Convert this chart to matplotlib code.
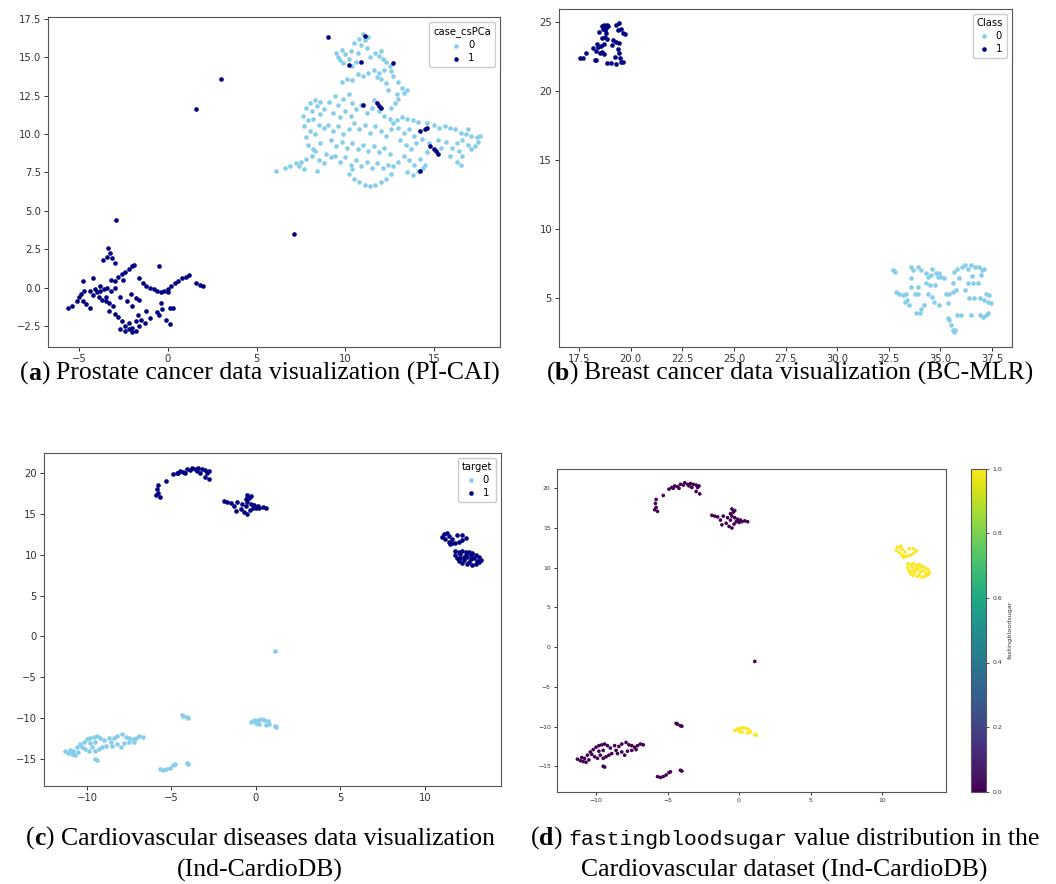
import matplotlib
matplotlib.use("Agg")
import matplotlib.pyplot as plt
from matplotlib.transforms import IdentityTransform

# ---------------- data: (a) PI-CAI ----------------
prostate_neg = [
    (9.5,15.3),(9.6,15.0),(9.8,15.5),(9.7,14.8),(10.0,15.2),(10.2,14.9),(10.3,15.4),(9.9,14.6),
    (10.4,14.4),(10.6,14.7),(10.5,15.9),(10.8,16.2),(11.0,16.5),(11.1,16.1),(10.9,15.8),(11.3,16.3),
    (11.2,15.6),(10.7,15.3),(11.4,15.0),(11.7,15.3),(11.9,15.1),(12.1,14.9),(12.0,15.4),(12.3,14.7),
    (12.5,14.4),(12.6,14.1),(12.2,14.2),(11.9,14.0),(11.6,14.2),(11.3,14.0),(11.0,13.8),(10.7,13.9),
    (10.4,13.5),(10.1,13.6),(9.8,13.4),(12.0,13.6),(12.3,13.3),(11.8,13.7),(12.7,13.8),(13.0,13.4),
    (13.2,13.0),(13.5,12.9),(13.3,12.7),(13.0,12.3),(12.8,12.0),(12.6,11.7),(12.9,12.6),(12.4,12.9),
    (8.0,12.0),(8.3,12.2),(8.6,12.1),(7.8,11.7),(8.1,11.5),(8.4,11.8),(7.6,11.2),(7.9,10.9),
    (8.2,11.0),(8.6,11.3),(8.8,11.6),(7.7,10.5),(8.0,10.2),(8.3,10.0),(8.5,10.6),(8.8,10.4),
    (7.8,9.8),(7.9,9.3),(8.2,9.0),(8.6,9.4),
    (6.1,7.6),(6.6,7.8),(6.9,7.9),(7.2,8.1),(7.5,8.2),(7.8,8.4),(8.1,8.6),(8.3,8.9),(7.4,7.9),
    (7.7,7.7),(8.5,8.3),(8.8,8.1),(8.9,8.7),(9.2,8.5),(8.4,7.6),
    (9.1,12.1),(9.4,12.5),(9.6,11.9),(9.9,12.3),(10.2,12.6),(10.4,12.0),(9.3,11.4),(9.7,11.1),
    (10.0,11.5),(10.3,11.2),(10.6,11.6),(10.9,11.9),(11.2,11.4),(11.5,11.7),(11.6,12.2),(11.9,11.5),
    (12.2,11.2),(12.5,11.0),(12.7,10.7),(9.0,10.6),(9.3,10.2),(9.6,10.5),(9.9,10.0),(10.2,10.3),
    (10.5,10.7),(10.8,10.3),(11.1,10.6),(11.4,10.1),(11.7,10.5),(12.0,10.2),(12.3,9.9),(12.6,10.3),
    (9.2,9.6),(9.5,9.2),(9.8,9.5),(10.1,9.1),(10.4,9.4),(10.7,9.0),(11.0,9.3),(11.3,8.9),
    (11.6,9.2),(11.9,8.8),(12.2,9.1),(12.5,8.7),(9.4,8.6),(9.7,8.2),(10.0,8.5),(10.3,8.0),
    (10.6,8.3),(10.9,7.9),(11.2,8.2),(11.5,7.8),(11.8,8.1),(12.1,7.8),(12.4,8.0),(12.7,7.9),
    (13.0,8.2),(10.2,7.4),(10.5,7.1),(10.8,6.9),(11.1,6.7),(11.4,6.6),(11.7,6.7),(12.0,6.9),
    (12.3,7.1),(10.4,7.7),(12.6,7.4),
    (12.9,10.9),(13.2,11.1),(13.5,11.0),(13.8,10.9),(14.1,10.8),(13.0,10.4),(13.3,10.1),(13.6,10.3),
    (13.9,9.9),(13.1,9.6),(13.4,9.3),(13.7,9.0),(14.0,9.4),(14.3,9.7),(13.3,8.6),(13.6,8.3),
    (13.9,8.0),(14.2,8.4),(14.5,8.0),(13.5,7.5),(13.8,7.3),(14.1,7.6),(14.4,7.8),(14.6,8.8),(14.7,9.4),
    (14.6,10.7),(15.0,10.6),(15.3,10.4),(15.6,10.5),(15.9,10.4),(16.2,10.3),(16.5,10.1),(16.8,10.0),
    (17.1,9.9),(17.4,9.8),(17.6,9.9),(17.5,9.5),(17.3,9.2),(17.1,9.0),(16.9,9.3),(16.6,9.6),
    (16.3,9.4),(16.0,9.1),(15.7,9.5),(16.4,8.9),(16.6,8.6),(16.3,8.2),(16.5,8.0),(15.9,8.6),
    (15.4,9.1),(15.2,9.6),(16.9,10.3),
]
prostate_pos = [
    (9.0,16.3),(11.1,16.4),(10.2,14.5),(10.9,14.7),(12.7,14.6),(11.0,11.9),(11.8,12.0),(11.9,11.8),
    (12.0,11.7),(14.2,10.2),(14.5,10.3),(14.6,10.4),(14.8,9.2),(15.0,9.0),(15.1,8.9),(15.2,8.7),
    (14.2,7.6),(3.0,13.6),(1.6,11.6),(-2.9,4.4),(7.1,3.5),
    (-3.35,2.55),(-3.25,2.23),(-3.44,2.0),(-3.16,1.9),(-3.63,1.8),(-2.97,1.58),
    (-5.6,-1.3),(-5.4,-1.2),(-5.1,-0.9),(-5.0,-0.6),(-4.9,-0.4),(-4.8,-0.9),(-4.6,-1.1),(-4.4,-1.3),
    (-4.7,-0.2),(-4.4,-0.2),(-4.1,-0.1),(-3.8,-0.2),(-3.6,-0.1),(-3.4,0.0),(-3.2,-0.2),(-3.0,0.0),
    (-4.2,0.6),(-4.8,0.4),(-3.9,-0.6),(-3.5,-0.9),(-3.3,-1.0),(-3.1,-1.2),(-3.3,-1.5),(-3.0,-1.7),
    (-2.8,-1.9),(-2.6,-2.2),(-2.4,-2.5),(-2.2,-2.7),(-2.0,-2.9),(-1.8,-2.8),(-1.6,-2.5),(-1.8,-2.2),
    (-1.5,-2.1),(-1.7,-1.8),(-2.4,-2.8),(-2.7,-2.7),
    (-3.0,0.4),(-2.8,0.7),(-2.6,0.9),(-2.4,1.0),(-2.2,1.2),(-2.0,1.4),(-1.9,1.5),(-2.5,0.5),
    (-2.7,-0.6),(-2.3,-0.9),(-2.1,-0.4),(-2.0,-1.2),(-1.8,-0.7),(-1.6,0.6),(-1.4,0.3),(-1.2,0.1),
    (-1.0,0.0),(-0.8,-0.1),(-0.6,-0.2),(-0.4,-0.3),(-0.2,-0.2),(0.0,-0.1),(0.2,0.1),(0.4,0.3),
    (0.6,0.4),(0.8,0.6),(1.0,0.7),(1.2,0.8),(1.6,0.3),(1.8,0.2),(2.0,0.1),(-0.5,1.4),
    (-0.4,-1.0),(-0.3,-1.4),(-0.5,-1.8),(-0.1,-2.1),(0.1,-2.4),(0.1,-1.3),(0.3,-1.3),(0.0,-0.3),
    (-0.6,-1.6),(-3.5,-0.6),(-3.7,-0.8),(-4.0,-0.3),(-4.2,-0.5),(-3.8,0.1),(-3.2,0.5),(-1.6,-0.8),
    (-1.2,-1.5),(-1.0,-2.0),(-1.3,-2.3),(-2.2,-2.3),(-2.0,-2.6),
]

# ---------------- data: (b) BC-MLR ----------------
breast_neg = [
    (32.71,7.01),(32.8,6.9),(33.6,7.25),(33.68,7.0),(33.92,7.25),(34.08,7.0),(33.6,6.4),(33.9,5.8),
    (33.6,5.8),(32.87,5.44),(33.0,5.3),(33.2,5.2),(33.34,5.3),(33.4,4.83),(33.3,4.7),(33.5,4.5),
    (33.76,5.3),(33.9,5.3),(33.8,3.86),(33.99,3.86),(34.07,4.2),(34.23,4.45),(34.32,6.77),(34.4,6.5),
    (34.55,6.65),(34.6,7.1),(34.8,6.77),(34.87,6.5),(35.03,6.5),(35.2,6.4),(34.95,6.8),(34.32,6.1),
    (34.48,5.95),(34.73,5.95),(34.4,5.3),(34.6,5.07),(34.7,4.7),(35.27,5.3),(35.43,5.3),(35.6,5.45),
    (35.75,5.55),(35.35,4.6),(35.35,3.5),(35.43,3.4),(35.5,3.0),(35.6,2.65),(35.65,2.5),(35.73,2.65),
    (35.82,3.75),(35.98,3.75),(36.5,3.75),(36.9,3.75),(37.05,3.6),(37.2,3.75),(37.3,3.87),(36.4,4.95),
    (36.65,4.95),(36.9,4.95),(37.13,4.83),(37.3,4.7),(37.45,4.6),(37.2,5.3),(37.35,5.2),(36.35,6.05),
    (36.57,6.05),(36.8,6.05),(35.6,6.05),(35.9,6.4),(35.66,6.9),(35.8,7.1),(36.05,7.25),(36.2,7.37),
    (36.35,7.1),(36.5,7.37),(36.7,7.25),(36.85,7.25),(37.0,7.0),(37.1,7.1),(36.95,6.65),(36.55,6.55),
    (36.2,5.55),(34.95,4.45),
]
breast_pos = [
    (17.55,22.4),(17.7,22.4),(17.85,22.8),(18.2,23.15),(18.25,22.25),(18.3,22.3),(18.35,23.45),
    (18.5,22.8),(18.6,22.85),(18.45,24.3),(18.6,24.7),(18.7,24.8),(18.75,24.45),(18.85,24.8),
    (18.8,24.6),(18.9,24.7),(18.6,23.85),(18.7,23.45),(18.75,23.95),(18.85,23.8),(18.85,22.05),
    (19.05,22.05),(19.1,23.35),(19.15,23.75),(19.3,24.8),(19.45,24.95),(19.4,24.45),(19.55,24.55),
    (19.65,24.25),(19.75,24.15),(19.3,23.6),(19.4,23.1),(19.45,22.75),(19.5,22.4),(19.55,22.1),
    (19.65,22.15),(19.3,22.0),(19.25,22.45),(18.4,23.2),(18.3,22.9),(18.55,23.3),(18.7,22.7),
    (19.45,23.5),(18.65,24.5),(18.8,24.2),
]

# ---------------- data: (c)/(d) Ind-CardioDB ----------------
cardio_top_arc = [
    (-5.9,17.3),(-5.7,17.1),(-5.8,17.6),(-5.85,18.1),(-5.8,18.6),(-5.3,19.1),(-4.9,19.9),(-4.7,20.1),
    (-4.5,20.3),(-4.3,20.2),(-4.1,20.5),(-3.9,20.4),(-3.8,20.7),(-3.6,20.5),(-3.4,20.6),(-3.2,20.5),
    (-3.0,20.4),(-2.8,20.3),(-2.75,19.3),(-3.0,19.6),(-4.6,20.0),(-4.2,20.0),(-3.5,20.3),(-3.3,20.1),
    (-2.9,20.1),
]
cardio_mid = [
    (-1.9,16.6),(-1.7,16.5),(-1.5,16.4),(-1.3,16.0),(-1.1,16.5),(-1.2,15.4),(-0.9,15.6),(-0.7,15.2),
    (-0.5,15.0),(-0.6,16.0),(-0.5,16.5),(-0.4,17.0),(-0.5,17.4),(-0.3,17.2),(-0.6,16.8),(-0.3,16.3),
    (-0.2,15.8),(0.0,15.7),(0.2,15.8),(0.4,15.9),(0.6,15.8),(-0.1,16.1),(-0.8,16.3),(-0.35,15.5),
    (0.1,16.0),
]
cardio_right_upper = [
    (11.0,12.2),(11.1,12.6),(11.3,12.7),(11.2,11.9),(11.4,11.6),(11.6,11.4),(11.8,11.5),(12.0,11.6),
    (12.2,11.8),(12.4,12.1),(12.2,12.4),(11.9,12.4),(11.6,12.0),(11.4,12.3),(11.5,11.3),
]
cardio_right_lower = [
    (11.8,10.5),(12.0,10.4),(12.2,10.5),(12.4,10.3),(12.6,10.4),(12.8,10.2),(13.0,10.0),(13.2,9.8),
    (13.3,9.4),(13.2,9.1),(13.0,8.9),(12.8,8.8),(12.5,8.9),(12.2,9.0),(12.0,9.2),(11.9,9.6),
    (11.8,10.0),(12.1,9.6),(12.3,9.4),(12.5,9.8),(12.7,9.5),(12.9,9.6),(12.4,10.0),(12.1,10.1),
    (12.7,10.0),(13.1,9.3),(12.6,9.1),(12.3,9.7),
]
cardio_bottom_left = [
    (-11.3,-14.1),(-11.1,-14.3),(-10.9,-14.4),(-10.8,-14.0),(-10.6,-13.6),(-10.5,-14.2),(-10.4,-13.2),
    (-10.2,-12.9),(-10.0,-12.6),(-9.8,-12.4),(-9.6,-12.3),(-9.4,-12.2),(-9.2,-12.4),(-10.1,-13.8),
    (-9.9,-14.0),(-9.7,-13.6),(-9.5,-14.0),(-9.3,-13.8),(-9.1,-13.6),(-8.9,-13.4),(-9.0,-12.7),
    (-9.8,-13.1),(-9.5,-13.0),(-10.3,-13.5),(-8.7,-12.4),(-8.4,-12.5),(-8.2,-12.2),(-7.9,-12.0),
    (-7.7,-12.3),(-7.5,-12.4),(-7.3,-12.6),(-7.1,-12.4),(-6.9,-12.2),(-6.7,-12.3),(-8.5,-13.4),
    (-8.2,-13.2),(-7.8,-13.1),(-7.5,-13.0),(-7.2,-12.9),(-8.0,-13.6),(-8.6,-13.0),(-9.5,-15.0),
    (-9.4,-15.1),(-10.7,-14.5),(-11.0,-13.9),
]
cardio_small_streak = [(-4.3,-9.7),(-4.1,-9.9),(-4.0,-9.95),(-4.4,-9.6)]
cardio_hook = [
    (-0.3,-10.5),(-0.1,-10.3),(0.1,-10.2),(0.3,-10.15),(0.5,-10.2),(0.7,-10.4),(0.8,-10.7),
    (0.6,-10.8),(0.2,-10.7),(1.1,-11.0),(1.2,-11.1),(0.0,-10.6),
]
cardio_single = [(1.1,-1.8)]
cardio_bottom = [(-5.7,-16.3),(-5.5,-16.4),(-5.3,-16.3),(-4.9,-15.8),(-4.8,-15.7),(-4.1,-15.5),
                 (-4.0,-15.6),(-5.1,-16.1)]
cardio_clusters = [cardio_top_arc, cardio_mid, cardio_right_upper, cardio_right_lower,
                   cardio_bottom_left, cardio_small_streak, cardio_hook, cardio_single, cardio_bottom]
cluster_target = [1, 1, 1, 1, 0, 0, 0, 0, 0]
cluster_fbs = [0, 0, 1, 1, 0, 0, 1, 0, 0]

LIGHT = "#87CEEB"
DARK = "#000080"

W, H = 1056, 884
fig = plt.figure(figsize=(W / 100, H / 100), dpi=100)


def ax_at(l, t, r, b):
    return fig.add_axes([l / W, 1 - b / H, (r - l) / W, (b - t) / H])


def style(ax, fs):
    for s in ax.spines.values():
        s.set_color("#555555")
        s.set_linewidth(0.8)
    ax.tick_params(labelsize=fs, colors="#333333", length=3, width=0.7, pad=2)


def xs(pts):
    return [p[0] for p in pts]


def ys(pts):
    return [p[1] for p in pts]


def add_legend(ax, title):
    lg = ax.legend(title=title, loc="upper right", fontsize=7.2, title_fontsize=7.2,
                   markerscale=1.0, handletextpad=0.6, borderpad=0.4, labelspacing=0.3,
                   handlelength=1.2, framealpha=1.0, edgecolor="#cccccc")
    return lg

# (a)
axa = ax_at(48, 17.5, 500, 347)
axa.scatter(xs(prostate_neg), ys(prostate_neg), s=11, c=LIGHT, linewidths=0, label="0")
axa.scatter(xs(prostate_pos), ys(prostate_pos), s=11, c=DARK, linewidths=0, label="1")
axa.set_xlim(-6.75, 18.72)
axa.set_ylim(-3.87, 17.59)
style(axa, 7.2)
add_legend(axa, "case_csPCa")

# (b)
axb = ax_at(559, 9, 1012, 347)
axb.scatter(xs(breast_neg), ys(breast_neg), s=11, c=LIGHT, linewidths=0, label="0")
axb.scatter(xs(breast_pos), ys(breast_pos), s=11, c=DARK, linewidths=0, label="1")
axb.set_xlim(16.53, 38.47)
axb.set_ylim(1.42, 25.97)
style(axb, 7.2)
add_legend(axb, "Class")

# (c)
axc = ax_at(44, 452.7, 501, 785.7)
for lab, col in [(0, LIGHT), (1, DARK)]:
    px, py = [], []
    for cl, t in zip(cardio_clusters, cluster_target):
        if t == lab:
            px += xs(cl)
            py += ys(cl)
    axc.scatter(px, py, s=11, c=col, linewidths=0, label=str(lab))
axc.set_xlim(-12.54, 14.5)
axc.set_ylim(-18.3, 22.53)
style(axc, 7.2)
add_legend(axc, "target")

# (d)
axd = ax_at(557, 468.7, 946, 791.7)
dx, dy, dc = [], [], []
for cl, f in zip(cardio_clusters, cluster_fbs):
    dx += xs(cl)
    dy += ys(cl)
    dc += [f] * len(cl)
sc = axd.scatter(dx, dy, c=dc, cmap="viridis", vmin=0, vmax=1, s=7, linewidths=0)
axd.set_xlim(-12.73, 14.47)
axd.set_ylim(-18.2, 22.47)
style(axd, 4.4)
axd.tick_params(length=2.5)
cax = ax_at(971, 468.7, 986, 791.7)
cb = fig.colorbar(sc, cax=cax)
cb.outline.set_edgecolor("#555555")
cb.outline.set_linewidth(0.8)
cax.tick_params(labelsize=4.4, colors="#333333", length=2.5, width=0.6, pad=2)
cb.set_ticks([0.0, 0.2, 0.4, 0.6, 0.8, 1.0])
cb.set_label("fastingbloodsugar", fontsize=4.6, color="#333333", labelpad=4)

# ---------------- captions ----------------
SERIF = "Liberation Serif"
MONO = "Liberation Mono"
renderer = fig.canvas.get_renderer()


def width_of(txt, fs, **kw):
    t = fig.text(0, 0, txt, fontsize=fs, transform=IdentityTransform(), **kw)
    w = t.get_window_extent(renderer).width
    t.remove()
    return w


def space_w(fs):
    return width_of("x x", fs, family=SERIF) - width_of("xx", fs, family=SERIF)


def segs(letter, pre, mono=None, post=None):
    out = [("(", dict(family=SERIF), 1.0, 0), (letter, dict(family=SERIF, weight="bold"), 1.0, 0),
           (")", dict(family=SERIF), 1.0, 0)]
    if mono is not None:
        out.append((mono, dict(family=MONO), None, 1))
        out.append((post, dict(family=SERIF), 1.0, 1))
    else:
        out.append((pre, dict(family=SERIF), 1.0, 1))
    return out


def line_width(parts, fs, mono_mult=1.0):
    sp = space_w(fs)
    tot = 0
    for t, kw, m, g in parts:
        m = mono_mult if m is None else m
        tot += width_of(t, fs * m, **kw) + g * sp
    return tot


def put_line(parts, xc, ybase, fs, mono_mult=1.0):
    sp = space_w(fs)
    total = line_width(parts, fs, mono_mult)
    x = xc - total / 2
    for t, kw, m, g in parts:
        m = mono_mult if m is None else m
        x += g * sp
        fig.text(x, H - ybase, t, fontsize=fs * m, va="baseline", ha="left",
                 transform=IdentityTransform(), color="black", **kw)
        x += width_of(t, fs * m, **kw)


cap_a = segs("a", "Prostate cancer data visualization (PI-CAI)")
cap_b = segs("b", "Breast cancer data visualization (BC-MLR)")
cap_c1 = segs("c", "Cardiovascular diseases data visualization")
cap_c2 = [("(Ind-CardioDB)", dict(family=SERIF), 1.0, 0)]
cap_d1 = segs("d", None, mono="fastingbloodsugar", post="value distribution in the")
cap_d2 = [("Cardiovascular dataset (Ind-CardioDB)", dict(family=SERIF), 1.0, 0)]

base = 16
fs_cap = base * 480 / line_width(cap_a, base)

# fit the monospace word so that line (d) spans ~510 px
w_full = line_width(cap_d1, fs_cap, 1.0)
w_mono = width_of("fastingbloodsugar", fs_cap, family=MONO)
mono_mult = (510 - (w_full - w_mono)) / w_mono
mono_mult = max(0.6, min(1.0, mono_mult))

put_line(cap_a, 260, 380, fs_cap)
put_line(cap_b, 790, 380, fs_cap)
put_line(cap_c1, 260, 845, fs_cap)
put_line(cap_c2, 260, 877, fs_cap)
put_line(cap_d1, 785, 845, fs_cap, mono_mult)
put_line(cap_d2, 784, 877, fs_cap)

fig.savefig("out.png", dpi=100, facecolor="white")
